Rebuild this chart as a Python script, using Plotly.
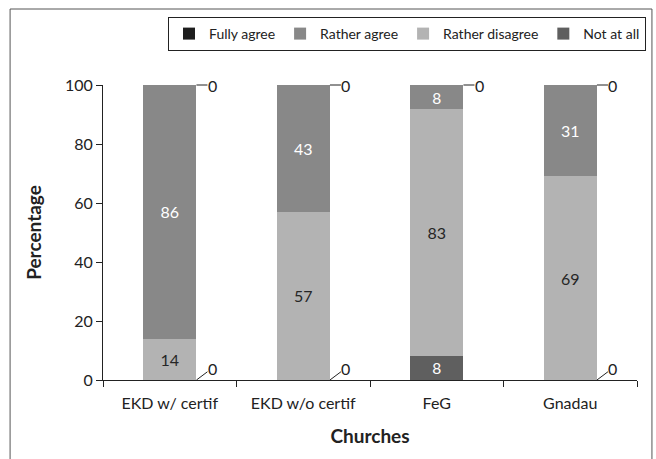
import plotly.graph_objects as go

categories = ["EKD w/ certif", "EKD w/o certif", "FeG", "Gnadau"]
not_at_all = [0, 0, 8.3, 0]
rather_disagree = [14, 57, 83.4, 69]
rather_agree = [86, 43, 8.3, 31]
fully_agree = [0, 0, 0, 0]

series = [
    ("Not at all", not_at_all, "#5f5f5f", "#ffffff"),
    ("Rather disagree", rather_disagree, "#b3b3b3", "#262626"),
    ("Rather agree", rather_agree, "#888888", "#ffffff"),
    ("Fully agree", fully_agree, "#1e1e1e", "#ffffff"),
]

FONT = "Lato"
fig = go.Figure()
for name, vals, color, tcolor in series:
    fig.add_trace(go.Bar(
        name=name, x=categories, y=vals,
        marker=dict(color=color, line=dict(width=0)),
        text=[str(round(v)) if v else "" for v in vals],
        textposition="inside", insidetextanchor="middle",
        textfont=dict(family=FONT, size=16, color=tcolor),
        textangle=0,
    ))

half = 0.2
annotations = []
for i, cat in enumerate(categories):
    base = 0
    for name, vals, color, tcolor in series:
        v = vals[i]
        if v == 0:
            if base < 50:
                ax, ay = 16, -12
            else:
                ax, ay = 16, 0
            annotations.append(dict(
                x=i + half, y=base, xref="x", yref="y", text="0",
                showarrow=True, arrowhead=0, arrowwidth=1, arrowcolor="#222",
                ax=ax, ay=ay, font=dict(family=FONT, size=16, color="#222"),
                borderpad=0,
            ))
        base += v

fig.update_layout(
    width=656, height=459,
    margin=dict(l=103, r=19, t=85, b=79),
    paper_bgcolor="white", plot_bgcolor="white",
    barmode="stack", bargap=0.6,
    font=dict(family=FONT, size=16, color="#222"),
    showlegend=True,
    legend=dict(
        orientation="h", traceorder="reversed",
        xref="container", yref="container",
        x=646 / 656, y=1 - 17 / 459, xanchor="right", yanchor="top",
        bordercolor="#222", borderwidth=1,
        font=dict(family=FONT, size=14, color="#222"),
        itemwidth=30,
    ),
    xaxis=dict(
        type="category", showline=True, linecolor="#222", linewidth=1,
        ticks="outside", tickson="boundaries", ticklen=6, tickcolor="#222",
        showgrid=False, automargin=False, ticklabelstandoff=9,
        title=dict(text="<b>Churches</b>", font=dict(family=FONT, size=19), standoff=18),
        tickfont=dict(family=FONT, size=16),
    ),
    yaxis=dict(
        range=[0, 100], tickvals=[0, 20, 40, 60, 80, 100],
        showline=True, linecolor="#222", linewidth=1, automargin=False,
        ticks="outside", ticklen=6, tickcolor="#222", showgrid=False, zeroline=False,
        title=dict(text="<b>Percentage</b>", font=dict(family=FONT, size=19), standoff=18),
        tickfont=dict(family=FONT, size=16),
    ),
    annotations=annotations,
    shapes=[dict(type="rect", xref="paper", yref="paper",
                 x0=-0.174, x1=1.028, y0=-0.4, y1=1.2576,
                 line=dict(color="#555", width=1), fillcolor="rgba(0,0,0,0)", layer="below")],
)

fig.write_html("out.html", config={"displayModeBar": False},
               post_script="document.body.style.margin='0px';document.body.style.overflow='hidden';")
